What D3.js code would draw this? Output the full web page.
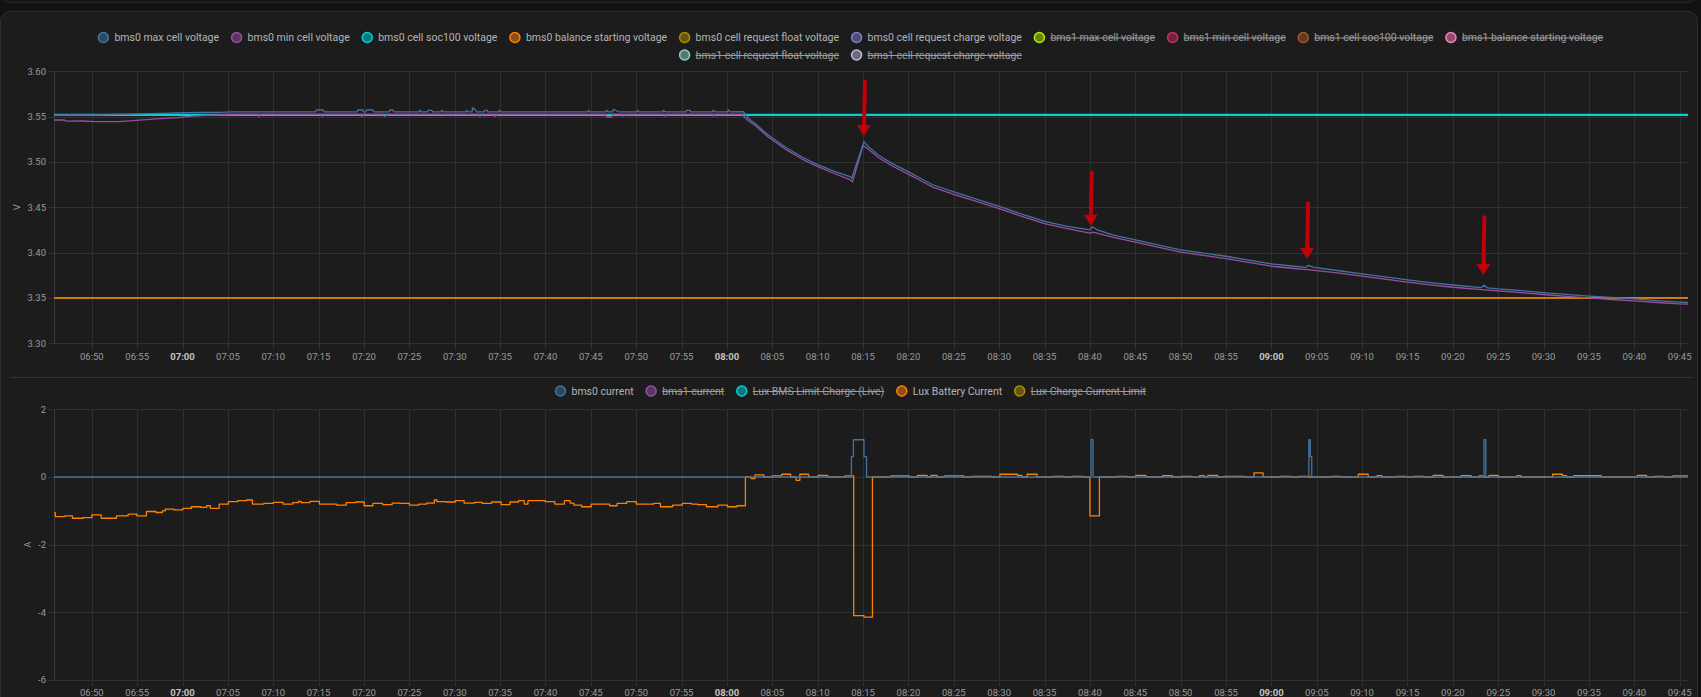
<!DOCTYPE html>
<html>
<head>
<meta charset="utf-8">
<script src="https://cdn.jsdelivr.net/npm/d3@7"></script>
<style>
  html, body { margin: 0; padding: 0; background: #121212; width: 1701px; height: 697px; overflow: hidden; }
  #prev { position: absolute; left: 0; right: 3px; top: -30px; height: 31px; border: 1px solid #262626; border-radius: 10px; background: #161616; }
  #card { position: absolute; left: 0; right: 3px; top: 11px; height: 720px; border: 1px solid #2e2e2e; border-radius: 10px; background: #1c1c1c; }
  svg { position: absolute; left: 0; top: 0; font-family: Roboto, "Noto Sans", sans-serif; }
</style>
</head>
<body>
<div id="prev"></div>
<div id="card"></div>
<svg id="chart" width="1701" height="697"></svg>
<script>
// time window shown (3 hours)
var timeStart = '06:45:50';
var timeEnd = '09:45:55';

// legend entries: [name, colour, hidden]
var voltageSeries = [
  ['bms0 max cell voltage', '#44739e', false],
  ['bms0 min cell voltage', '#984ea3', false],
  ['bms0 cell soc100 voltage', '#00d2d5', false],
  ['bms0 balance starting voltage', '#ff7f00', false],
  ['bms0 cell request float voltage', '#af8d00', false],
  ['bms0 cell request charge voltage', '#7f80cd', false],
  ['bms1 max cell voltage', '#b3e900', true],
  ['bms1 min cell voltage', '#c42e60', true],
  ['bms1 cell soc100 voltage', '#a65628', true],
  ['bms1 balance starting voltage', '#f781bf', true],
  ['bms1 cell request float voltage', '#8dd3c7', true],
  ['bms1 cell request charge voltage', '#bebada', true]
];
var currentSeries = [
  ['bms0 current', '#44739e', false],
  ['bms1 current', '#984ea3', true],
  ['Lux BMS Limit Charge (Live)', '#00d2d5', true],
  ['Lux Battery Current', '#ff7f00', false],
  ['Lux Charge Current Limit', '#af8d00', true]
];

var voltageTicks = [3.30, 3.35, 3.40, 3.45, 3.50, 3.55, 3.60];
var currentTicks = [-6, -4, -2, 0, 2];

// bms0 max cell voltage [time, V]
var maxCell = [
  ['06:45:50', 3.5518], ['06:48:00', 3.5521], ['06:50:20', 3.5518], ['06:52:40', 3.5524],
  ['06:54:30', 3.5528], ['06:56:10', 3.5533], ['06:57:40', 3.5536], ['06:59:10', 3.5540],
  ['07:00:40', 3.5544], ['07:02:10', 3.5546], ['07:04:00', 3.5548], ['07:05:30', 3.5552],
  ['07:14:40', 3.5552], ['07:14:45', 3.5573], ['07:15:30', 3.5573], ['07:15:35', 3.5552],
  ['07:19:15', 3.5552], ['07:19:19', 3.5573], ['07:19:52', 3.5573], ['07:19:56', 3.5552],
  ['07:20:13', 3.5552], ['07:20:17', 3.5573], ['07:21:00', 3.5573], ['07:21:04', 3.5552],
  ['07:22:47', 3.5552], ['07:22:51', 3.5573], ['07:23:11', 3.5573], ['07:23:15', 3.5552],
  ['07:26:05', 3.5552], ['07:26:09', 3.5570], ['07:26:20', 3.5552],
  ['07:27:00', 3.5552], ['07:27:04', 3.5570], ['07:27:29', 3.5570], ['07:27:33', 3.5552],
  ['07:28:29', 3.5552], ['07:28:33', 3.5570], ['07:28:45', 3.5552],
  ['07:31:14', 3.5552], ['07:31:18', 3.5570], ['07:31:30', 3.5552],
  ['07:31:54', 3.5552], ['07:31:58', 3.5597], ['07:32:13', 3.5580], ['07:32:25', 3.5552],
  ['07:33:15', 3.5552], ['07:33:19', 3.5570], ['07:33:35', 3.5570], ['07:33:39', 3.5552],
  ['07:34:50', 3.5552], ['07:34:54', 3.5570], ['07:35:06', 3.5552],
  ['07:44:39', 3.5552], ['07:44:43', 3.5570], ['07:44:55', 3.5552],
  ['07:46:40', 3.5552], ['07:46:44', 3.5570], ['07:46:56', 3.5552],
  ['07:47:24', 3.5552], ['07:47:28', 3.5580], ['07:47:50', 3.5565], ['07:48:05', 3.5552],
  ['07:50:03', 3.5552], ['07:50:07', 3.5570], ['07:50:20', 3.5552],
  ['07:52:55', 3.5552], ['07:52:59', 3.5570], ['07:53:12', 3.5552],
  ['07:55:29', 3.5552], ['07:55:33', 3.5570], ['07:55:55', 3.5570], ['07:55:59', 3.5552],
  ['07:58:25', 3.5552], ['07:58:29', 3.5570], ['07:58:42', 3.5552],
  ['08:00:04', 3.5552], ['08:00:08', 3.5575], ['08:00:22', 3.5552],
  ['08:01:48', 3.5554], ['08:02:21', 3.5482], ['08:03:05', 3.5427], ['08:04:33', 3.5297],
  ['08:06:23', 3.5168], ['08:08:14', 3.5058], ['08:10:04', 3.4967], ['08:11:54', 3.4893],
  ['08:13:34', 3.4838], ['08:13:45', 3.4820], ['08:15:06', 3.5224], ['08:15:35', 3.5168],
  ['08:16:41', 3.5077], ['08:18:10', 3.4985], ['08:19:59', 3.4893], ['08:21:28', 3.4812],
  ['08:22:44', 3.4746], ['08:25:00', 3.4669], ['08:27:30', 3.4590], ['08:30:00', 3.4510],
  ['08:32:30', 3.4425], ['08:35:00', 3.4345], ['08:37:30', 3.4290], ['08:40:00', 3.4250],
  ['08:40:15', 3.4285], ['08:40:45', 3.4255], ['08:42:30', 3.4195], ['08:45:00', 3.4140],
  ['08:47:30', 3.4085], ['08:50:00', 3.4030], ['08:52:30', 3.3995], ['08:55:00', 3.3960],
  ['08:57:30', 3.3918], ['09:00:00', 3.3875], ['09:02:30', 3.3850], ['09:03:50', 3.3838],
  ['09:04:05', 3.3860], ['09:04:40', 3.3838], ['09:07:30', 3.3800], ['09:10:00', 3.3765],
  ['09:12:30', 3.3732], ['09:15:00', 3.3700], ['09:17:30', 3.3670], ['09:20:00', 3.3643],
  ['09:23:10', 3.3615], ['09:23:25', 3.3640], ['09:23:50', 3.3612], ['09:25:00', 3.3600],
  ['09:27:30', 3.3580], ['09:30:00', 3.3560], ['09:32:30', 3.3540], ['09:35:00', 3.3520],
  ['09:37:30', 3.3505], ['09:40:00', 3.3490], ['09:42:30', 3.3470], ['09:45:00', 3.3455],
  ['09:45:55', 3.3450]
];

// bms0 min cell voltage [time, V]
var minCell = [
  ['06:45:50', 3.5463], ['06:47:00', 3.5463], ['06:47:10', 3.5450], ['06:49:00', 3.5452],
  ['06:50:20', 3.5444], ['06:53:00', 3.5446], ['06:54:30', 3.5455], ['06:56:00', 3.5468],
  ['06:57:30', 3.5478], ['06:59:30', 3.5488], ['07:01:00', 3.5505], ['07:02:50', 3.5515],
  ['07:04:30', 3.5521], ['07:06:00', 3.5526],
  ['07:08:20', 3.5526], ['07:08:24', 3.5502], ['07:08:40', 3.5526],
  ['07:15:20', 3.5526], ['07:15:24', 3.5502], ['07:15:45', 3.5526],
  ['07:19:40', 3.5526], ['07:19:44', 3.5502], ['07:20:00', 3.5526],
  ['07:22:10', 3.5526], ['07:22:14', 3.5502], ['07:22:40', 3.5526],
  ['07:32:42', 3.5526], ['07:32:46', 3.5502], ['07:33:00', 3.5526],
  ['07:34:22', 3.5526], ['07:34:26', 3.5502], ['07:34:40', 3.5526],
  ['07:46:40', 3.5526], ['07:46:44', 3.5496], ['07:47:17', 3.5496], ['07:47:21', 3.5526],
  ['07:48:30', 3.5526], ['07:48:34', 3.5505], ['07:48:48', 3.5526],
  ['07:53:06', 3.5526], ['07:53:10', 3.5505], ['07:53:24', 3.5526],
  ['07:58:25', 3.5526], ['07:58:29', 3.5505], ['07:58:42', 3.5526],
  ['08:01:40', 3.5526], ['08:02:10', 3.5470], ['08:03:05', 3.5405], ['08:04:33', 3.5275],
  ['08:06:23', 3.5145], ['08:08:14', 3.5035], ['08:10:04', 3.4945], ['08:11:54', 3.4870],
  ['08:13:34', 3.4805], ['08:13:50', 3.4782], ['08:15:00', 3.5180], ['08:15:35', 3.5140],
  ['08:16:41', 3.5050], ['08:18:10', 3.4958], ['08:19:59', 3.4866], ['08:21:28', 3.4787],
  ['08:22:44', 3.4720], ['08:25:00', 3.4643], ['08:27:30', 3.4565], ['08:30:00', 3.4485],
  ['08:32:30', 3.4400], ['08:35:00', 3.4320], ['08:37:30', 3.4265], ['08:40:00', 3.4215],
  ['08:40:20', 3.4225], ['08:42:30', 3.4170], ['08:45:00', 3.4115], ['08:47:30', 3.4060],
  ['08:50:00', 3.4005], ['08:52:30', 3.3970], ['08:55:00', 3.3935], ['08:57:30', 3.3893],
  ['09:00:00', 3.3850], ['09:02:30', 3.3825], ['09:04:00', 3.3812], ['09:07:30', 3.3775],
  ['09:10:00', 3.3740], ['09:12:30', 3.3707], ['09:15:00', 3.3675], ['09:17:30', 3.3645],
  ['09:20:00', 3.3618], ['09:23:30', 3.3590], ['09:25:00', 3.3578], ['09:27:30', 3.3558],
  ['09:30:00', 3.3538], ['09:32:30', 3.3518], ['09:35:00', 3.3500], ['09:37:30', 3.3483],
  ['09:40:00', 3.3468], ['09:42:30', 3.3450], ['09:45:00', 3.3435], ['09:45:55', 3.3432]
];

var soc100 = [['06:45:50', 3.5518], ['09:45:55', 3.5518]];
var balanceStart = [['06:45:50', 3.35], ['09:45:55', 3.35]];
var requestFloat = [['06:45:50', 3.35], ['09:45:55', 3.35]];
var requestCharge = [['06:45:50', 3.5522], ['09:45:55', 3.5522]];

// bms0 current [time, A]
var bms0Current = [
  ['06:45:50', 0], ['08:13:43', 0.6], ['08:13:56', 1.1], ['08:15:06', 0.6], ['08:15:23', 0],
  ['08:40:08', 1.1], ['08:40:21', 0],
  ['09:04:08', 1.1], ['09:04:17', 0.6], ['09:04:27', 0],
  ['09:23:26', 1.1], ['09:23:38', 0], ['09:45:55', 0]
];

// Lux battery current [time, A]
var luxBattery = [
  ['06:45:50', -1.06], ['06:45:59', -1.17], ['06:47:01', -1.15], ['06:47:52', -1.22],
  ['06:49:03', -1.20], ['06:50:01', -1.12], ['06:51:02', -1.22], ['06:52:43', -1.15],
  ['06:54:00', -1.10], ['06:54:58', -1.15], ['06:56:01', -1.02], ['06:57:04', -1.05],
  ['06:57:47', -1.00], ['06:58:05', -0.95], ['06:59:02', -0.97], ['07:00:02', -0.93],
  ['07:00:58', -0.88], ['07:02:01', -0.90], ['07:02:39', -0.85], ['07:03:04', -0.93],
  ['07:04:02', -0.80], ['07:05:03', -0.73], ['07:06:05', -0.70], ['07:07:04', -0.68],
  ['07:07:42', -0.80], ['07:08:58', -0.78], ['07:10:01', -0.75], ['07:11:05', -0.80],
  ['07:12:08', -0.76], ['07:12:46', -0.72], ['07:13:04', -0.76], ['07:14:02', -0.72],
  ['07:15:05', -0.80], ['07:16:08', -0.80], ['07:16:59', -0.83], ['07:18:02', -0.76],
  ['07:19:06', -0.74], ['07:20:01', -0.85], ['07:20:59', -0.78], ['07:22:03', -0.82],
  ['07:23:06', -0.77], ['07:23:57', -0.78], ['07:25:00', -0.83], ['07:26:03', -0.80],
  ['07:26:54', -0.77], ['07:27:45', -0.68], ['07:28:02', -0.73], ['07:29:01', -0.74],
  ['07:30:04', -0.70], ['07:31:02', -0.77], ['07:32:11', -0.75], ['07:33:01', -0.78],
  ['07:34:04', -0.74], ['07:35:07', -0.82], ['07:36:05', -0.74], ['07:37:02', -0.70],
  ['07:37:40', -0.80], ['07:38:04', -0.70], ['07:39:58', -0.73], ['07:41:02', -0.80],
  ['07:42:05', -0.70], ['07:42:43', -0.77], ['07:43:08', -0.83], ['07:43:59', -0.88],
  ['07:45:02', -0.80], ['07:47:04', -0.85], ['07:47:54', -0.78], ['07:48:57', -0.73],
  ['07:50:01', -0.80], ['07:51:55', -0.78], ['07:52:40', -0.88], ['07:54:01', -0.83],
  ['07:55:04', -0.78], ['07:56:07', -0.80], ['07:56:46', -0.82], ['07:57:44', -0.88],
  ['07:59:00', -0.83], ['08:00:03', -0.88], ['08:01:06', -0.85], ['08:02:02', 0.00],
  ['08:02:40', -0.05], ['08:03:05', 0.06], ['08:04:04', 0.00], ['08:04:59', 0.03],
  ['08:06:02', 0.08], ['08:07:01', 0.00], ['08:07:37', -0.10], ['08:08:02', 0.08],
  ['08:09:00', 0.00], ['08:10:03', 0.05], ['08:11:06', 0.00], ['08:13:00', 0.03],
  ['08:13:58', -4.10], ['08:15:06', -4.14], ['08:16:02', 0.00], ['08:18:04', 0.03],
  ['08:20:05', 0.00], ['08:21:00', 0.05], ['08:22:04', 0.00], ['08:22:30', 0.05],
  ['08:23:10', 0.00], ['08:24:00', 0.03], ['08:26:05', 0.00], ['08:27:00', 0.02],
  ['08:29:10', 0.00], ['08:30:05', 0.08], ['08:32:00', 0.05], ['08:32:30', 0.00],
  ['08:33:05', 0.08], ['08:34:10', 0.00], ['08:36:00', 0.02], ['08:37:05', 0.00],
  ['08:38:05', 0.02], ['08:39:10', 0.00], ['08:40:00', -1.15], ['08:41:03', 0.00],
  ['08:43:00', 0.02], ['08:44:05', 0.00], ['08:45:04', 0.05], ['08:46:10', 0.00],
  ['08:48:00', 0.04], ['08:49:05', 0.00], ['08:50:05', 0.02], ['08:51:10', 0.00],
  ['08:52:05', 0.04], ['08:52:35', 0.00], ['08:53:00', 0.05], ['08:54:05', 0.00],
  ['08:54:45', 0.02], ['08:57:00', 0.00], ['08:58:05', 0.12], ['08:59:05', 0.00],
  ['09:01:00', 0.02], ['09:02:05', 0.00], ['09:03:00', 0.02], ['09:04:05', 0.00],
  ['09:06:40', 0.02], ['09:07:35', 0.00], ['09:09:35', 0.08], ['09:10:40', 0.00],
  ['09:11:40', 0.04], ['09:12:10', 0.00], ['09:13:45', 0.02], ['09:14:50', 0.00],
  ['09:15:45', 0.02], ['09:16:50', 0.00], ['09:17:50', 0.05], ['09:18:55', 0.00],
  ['09:20:55', 0.04], ['09:22:00', 0.00], ['09:22:55', 0.03], ['09:23:20', 0.00],
  ['09:24:00', 0.05], ['09:25:00', 0.00], ['09:27:05', 0.04], ['09:27:30', 0.00],
  ['09:31:00', 0.08], ['09:32:05', 0.04], ['09:32:30', 0.00], ['09:33:20', 0.04],
  ['09:36:20', 0.00], ['09:40:20', 0.05], ['09:41:20', 0.00], ['09:42:15', 0.02],
  ['09:43:15', 0.00], ['09:44:15', 0.03], ['09:45:55', 0.03]
];

// red hand-drawn arrows: [time, top V, tip V]
var arrows = [
  ['08:15:06', 3.5885, 3.5286],
  ['08:40:06', 3.4882, 3.4297],
  ['09:03:56', 3.4544, 3.3930],
  ['09:23:22', 3.4389, 3.3753]
];

var parseTime = d3.timeParse('%Y-%m-%d %H:%M:%S');
function t(s) { return parseTime('2024-03-10 ' + s); }

var svg = d3.select('#chart');
var W = 1701;
var plotLeft = 54, plotRight = 1688;
var gridColor = '#303030';
var tickColor = '#9a9a9a';

var x = d3.scaleTime().domain([t(timeStart), t(timeEnd)]).range([plotLeft, plotRight]);
var xTicks = x.ticks(d3.timeMinute.every(5));
var fmtTime = d3.timeFormat('%H:%M');

function drawLegend(series, yFirst, rowGap) {
  var g = svg.append('g');
  var items = series.map(function(s) {
    var tmp = g.append('text').style('font-size', '10.5px').text(s[0]);
    var w = tmp.node().getComputedTextLength();
    tmp.remove();
    return { name: s[0], color: s[1], hidden: s[2], w: w + 16.5 };
  });
  // wrap into rows
  var rows = [[]], rowW = [0], maxW = 1560;
  items.forEach(function(it) {
    var r = rows.length - 1;
    var add = (rows[r].length ? 12 : 0) + it.w;
    if (rowW[r] + add > maxW) { rows.push([]); rowW.push(0); r++; add = it.w; }
    rows[r].push(it);
    rowW[r] += add;
  });
  rows.forEach(function(row, ri) {
    var cx = W / 2 - rowW[ri] / 2;
    var y = yFirst + ri * rowGap;
    row.forEach(function(it) {
      g.append('circle')
        .attr('cx', cx + 5.5).attr('cy', y).attr('r', 5)
        .style('fill', it.color).style('fill-opacity', 0.5)
        .style('stroke', it.color).style('stroke-width', 1.5);
      g.append('text')
        .attr('x', cx + 16.5).attr('y', y)
        .attr('dy', '0.35em')
        .style('font-size', '10.5px')
        .style('fill', it.hidden ? '#9c9c9c' : '#b4b4b4')
        .text(it.name);
      if (it.hidden) {
        g.append('line')
          .attr('x1', cx + 16.5).attr('x2', cx + it.w)
          .attr('y1', y + 0.5).attr('y2', y + 0.5)
          .style('stroke', '#9c9c9c').style('stroke-width', 1);
      }
      cx += it.w + 12;
    });
  });
}

function drawFrame(y, ticks, fmt, yTop, yBot, title, titleX) {
  var g = svg.append('g');
  // horizontal grid
  g.selectAll('.hg').data(ticks).enter().append('line')
    .attr('x1', plotLeft - 6).attr('x2', plotRight)
    .attr('y1', function(d) { return Math.round(y(d)) + 0.5; })
    .attr('y2', function(d) { return Math.round(y(d)) + 0.5; })
    .style('stroke', gridColor).style('stroke-width', 1);
  // vertical grid
  g.selectAll('.vg').data(xTicks).enter().append('line')
    .attr('x1', function(d) { return Math.round(x(d)) + 0.5; })
    .attr('x2', function(d) { return Math.round(x(d)) + 0.5; })
    .attr('y1', yTop).attr('y2', yBot + 6)
    .style('stroke', gridColor).style('stroke-width', 1);
  g.append('line')
    .attr('x1', plotLeft + 0.5).attr('x2', plotLeft + 0.5)
    .attr('y1', yTop).attr('y2', yBot)
    .style('stroke', '#3a3a3a');
  // y labels
  g.selectAll('.yl').data(ticks).enter().append('text')
    .attr('x', plotLeft - 8).attr('y', function(d) { return y(d); })
    .attr('dy', '0.35em').attr('text-anchor', 'end')
    .style('font-size', '9.5px').style('fill', tickColor)
    .text(fmt);
  // x labels
  g.selectAll('.xl').data(xTicks).enter().append('text')
    .attr('x', function(d) { return x(d); }).attr('y', yBot + 13)
    .attr('dy', '0.35em').attr('text-anchor', 'middle')
    .style('font-size', '9.5px')
    .style('font-weight', function(d) { return d.getMinutes() === 0 ? 'bold' : 'normal'; })
    .style('fill', function(d) { return d.getMinutes() === 0 ? '#c4c4c4' : tickColor; })
    .text(fmtTime);
  g.append('text')
    .attr('transform', 'translate(' + titleX + ',' + (yTop + yBot) / 2 + ') rotate(-90)')
    .attr('text-anchor', 'middle').attr('dy', '0.35em')
    .style('font-size', '9.5px').style('fill', tickColor)
    .text(title);
}

function drawSeries(y, data, color, width, curve) {
  var line = d3.line()
    .x(function(d) { return x(t(d[0])); })
    .y(function(d) { return y(d[1]); })
    .curve(curve);
  svg.append('path')
    .datum(data)
    .attr('d', line)
    .style('fill', 'none')
    .style('stroke', color)
    .style('stroke-width', width)
    .style('stroke-linejoin', 'round');
}

///////////////////////////////////////////////////////////////////////////////
// TOP CHART: cell voltages
var yV = d3.scaleLinear().domain([3.30, 3.60]).range([343.3, 71.3]);
drawLegend(voltageSeries, 37.5, 17.5);
drawFrame(yV, voltageTicks, function(d) { return d.toFixed(2); }, 71.3, 343.3, 'V', 17);

// drawn last-to-first so the first dataset ends up on top
drawSeries(yV, requestCharge, '#7f80cd', 2, d3.curveLinear);
drawSeries(yV, requestFloat, '#af8d00', 1.5, d3.curveLinear);
drawSeries(yV, balanceStart, '#ff7f00', 1.2, d3.curveLinear);
drawSeries(yV, soc100, '#00d2d5', 2, d3.curveLinear);
drawSeries(yV, minCell, '#984ea3', 1.3, d3.curveLinear);
drawSeries(yV, maxCell, '#44739e', 1.3, d3.curveLinear);

// arrows
arrows.forEach(function(a) {
  var ax = x(t(a[0]));
  var yTopA = yV(a[1]), yTip = yV(a[2]);
  svg.append('line')
    .attr('x1', ax + 1).attr('x2', ax)
    .attr('y1', yTopA).attr('y2', yTip - 8)
    .style('stroke', '#c0000a').style('stroke-width', 4)
    .style('stroke-linecap', 'round');
  svg.append('path')
    .attr('d', 'M' + (ax - 7) + ',' + (yTip - 11) + 'L' + (ax + 7) + ',' + (yTip - 11) + 'L' + ax + ',' + yTip + 'Z')
    .style('fill', '#c0000a');
});

// separator
svg.append('line')
  .attr('x1', 10).attr('x2', 1693).attr('y1', 377.5).attr('y2', 377.5)
  .style('stroke', '#333');

///////////////////////////////////////////////////////////////////////////////
// BOTTOM CHART: currents
var yA = d3.scaleLinear().domain([-6, 2]).range([680, 409.3]);
drawLegend(currentSeries, 391, 17.5);
drawFrame(yA, currentTicks, function(d) { return String(d); }, 409.3, 680, 'A', 28);

drawSeries(yA, luxBattery, '#ff7f00', 1.3, d3.curveStepAfter);
drawSeries(yA, bms0Current, '#44739e', 1.3, d3.curveStepAfter);
</script>
</body>
</html>
